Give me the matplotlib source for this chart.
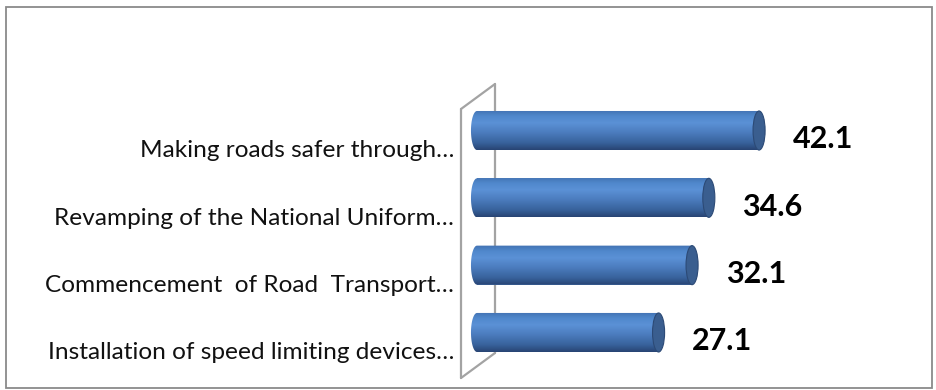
import numpy as np
import matplotlib
matplotlib.use("Agg")
import matplotlib.pyplot as plt
from matplotlib.path import Path
from matplotlib.patches import PathPatch, Ellipse, Rectangle
from matplotlib.colors import LinearSegmentedColormap

categories = [
    "Installation of speed limiting devices…",
    "Commencement  of Road  Transport…",
    "Revamping of the National Uniform…",
    "Making roads safer through…",
]
values = [27.1, 32.1, 34.6, 42.1]

W, H = 936, 390
fig = plt.figure(figsize=(W / 100, H / 100), dpi=100)
fig.patch.set_facecolor("white")

def px(x, y):
    return x / W, (H - y) / H

# axes placed in pixel terms
l, r, t, b = 461, 900, 109, 378
ax = fig.add_axes([l / W, (H - b) / H, (r - l) / W, (b - t) / H])
ax.set_facecolor("none")
ppu_x = 6.7
x0_px = 477
ppu_y = 67.3
for s in ax.spines.values():
    s.set_visible(False)
ax.set_xticks([])

ypos = np.arange(len(categories))
bar_h = 0.58
cap_w = 1.8

# wall (3D side panel)
wall_col = "#a3a3a3"
for (xa, ya), (xb, yb) in [((461, 109), (461, 378)), ((461, 109), (495, 84)),
                           ((495, 84), (495, 353)), ((461, 378), (495, 353))]:
    (fa, ga), (fb, gb) = px(xa, ya), px(xb, yb)
    ax.plot([fa, fb], [ga, gb], color=wall_col, lw=1.6, transform=fig.transFigure,
            clip_on=False, zorder=1, solid_capstyle="round")

bars = ax.barh(ypos, values, height=bar_h, color="#4f81bd", zorder=2)

cmap = LinearSegmentedColormap.from_list("cyl", [
    (0.0, "#284473"), (0.18, "#38629c"), (0.45, "#4c7dbf"),
    (0.68, "#5b91d6"), (0.85, "#5088cc"), (1.0, "#4272b2")])
grad = np.linspace(0, 1, 200).reshape(-1, 1)

for rect in bars:
    x0 = rect.get_x()
    w = rect.get_width()
    y0 = rect.get_y()
    h = rect.get_height()
    yc = y0 + h / 2
    th = np.linspace(np.pi / 2, 3 * np.pi / 2, 40)
    left = np.column_stack([x0 + (cap_w / 2) * np.cos(th), yc + (h / 2) * np.sin(th)])
    verts = np.vstack([[[x0 + w, y0 + h]], left, [[x0 + w, y0]], [[x0 + w, y0 + h]]])
    path = Path(verts, closed=True)
    clip = PathPatch(path, transform=ax.transData, facecolor="none", edgecolor="none")
    ax.add_patch(clip)
    im = ax.imshow(grad, cmap=cmap, extent=(x0 - cap_w, x0 + w, y0, y0 + h),
                   origin="lower", aspect="auto", interpolation="bilinear", zorder=3)
    im.set_clip_path(clip)
    cap = Ellipse((x0 + w, yc), width=cap_w, height=h, facecolor="#3a5e8f",
                  edgecolor="#2c4a76", lw=0.8, zorder=4)
    ax.add_patch(cap)
    ax.text(x0 + w + 5.0, yc - 0.13, f"{w}", ha="left", va="center",
            fontsize=22, fontweight="bold", family="Lato", color="black", zorder=5)

ax.set_xlim(-(x0_px - l) / ppu_x, (r - x0_px) / ppu_x)
ax.set_ylim(-(b - 332.5) / ppu_y, 3 + (130.5 - t) / ppu_y)
ax.set_yticks(ypos - 0.27)
ax.set_yticklabels(categories, fontsize=17.6, family="Lato", color="#111111")
ax.tick_params(axis="y", length=0, pad=5)

# outer border
fx, fy = px(6, 388)
fig.add_artist(Rectangle((fx, fy), (932 - 6) / W, (388 - 7) / H, transform=fig.transFigure,
                         fill=False, edgecolor="#8a8a8a", lw=1.3))

fig.savefig("out.png", dpi=100)
